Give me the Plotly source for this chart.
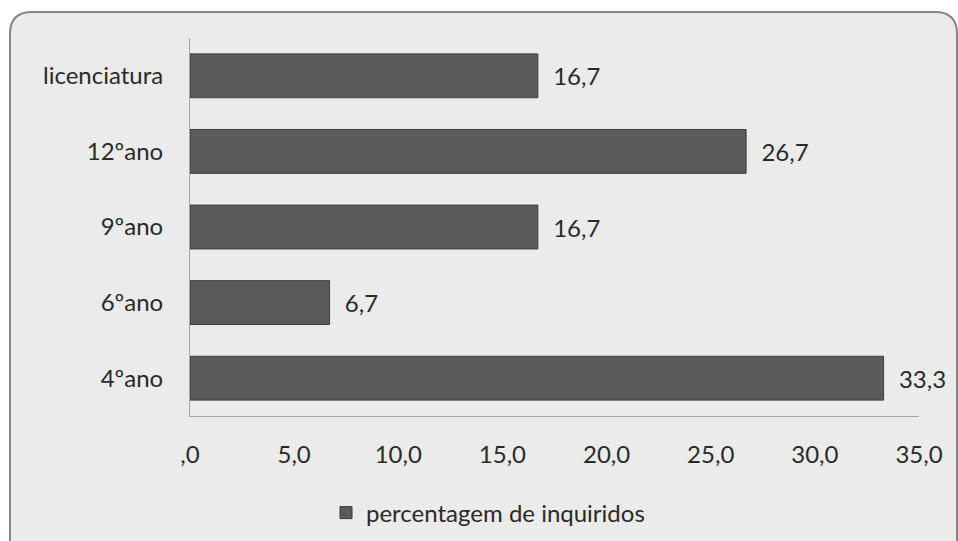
import plotly.graph_objects as go

categories = ["4ºano", "6ºano", "9ºano", "12ºano", "licenciatura"]
values = [33.3, 6.7, 16.7, 26.7, 16.7]
series_name = "percentagem de inquiridos"
x_tick_vals = [0, 5, 10, 15, 20, 25, 30, 35]
x_tick_text = [",0", "5,0", "10,0", "15,0", "20,0", "25,0", "30,0", "35,0"]

W, H = 958, 541
L, R, T, B = 190, 919, 38, 416
pw, ph = R - L, B - T

def px(x):
    return (x - L) / pw

def py(y):
    return 1 - (y - T) / ph

FONT = "Lato"
FS = 24
TXT = "#2a2a2a"

fig = go.Figure()
fig.add_trace(go.Bar(
    y=categories, x=values, orientation="h", name=series_name,
    marker=dict(color="#5b5b5b", line=dict(color="#3c3c3c", width=1)),
    text=["  " + f"{v:.1f}".replace(".", ",") for v in values],
    textposition="outside", cliponaxis=False,
    textfont=dict(family=FONT, size=FS, color=TXT),
    showlegend=True,
))

# rounded chart-area box
x0, y0, x1, y1, r = 10, 12, 957, 545, 22
path = (f"M {px(x0)},{py(y0 + r)} "
        f"Q {px(x0)},{py(y0)} {px(x0 + r)},{py(y0)} "
        f"L {px(x1 - r)},{py(y0)} "
        f"Q {px(x1)},{py(y0)} {px(x1)},{py(y0 + r)} "
        f"L {px(x1)},{py(y1)} L {px(x0)},{py(y1)} Z")
fig.add_shape(type="path", path=path, xref="paper", yref="paper",
              fillcolor="#ebebeb", line=dict(color="#868686", width=2), layer="below")

fig.update_layout(
    width=W, height=H,
    margin=dict(l=L, r=W - R, t=T, b=H - B, autoexpand=False),
    paper_bgcolor="white", plot_bgcolor="white",
    bargap=0.42,
    font=dict(family=FONT, size=FS, color=TXT),
    xaxis=dict(range=[0, 35], tickvals=x_tick_vals, ticktext=x_tick_text,
               showgrid=False, zeroline=False, showline=True, linecolor="#a6a6a6",
               linewidth=1, ticks="", ticklabelstandoff=17, automargin=False,
               tickfont=dict(family=FONT, size=FS, color=TXT)),
    yaxis=dict(showgrid=False, zeroline=False, showline=True, linecolor="#a6a6a6",
               linewidth=1, ticks="", ticklabelstandoff=21, automargin=False,
               tickfont=dict(family=FONT, size=FS, color=TXT)),
    legend=dict(orientation="h", x=px(488), y=py(513), xanchor="center", yanchor="middle",
                bgcolor="rgba(0,0,0,0)", font=dict(family=FONT, size=FS, color=TXT),
                itemwidth=30),
)

fig.write_html("out.html")
